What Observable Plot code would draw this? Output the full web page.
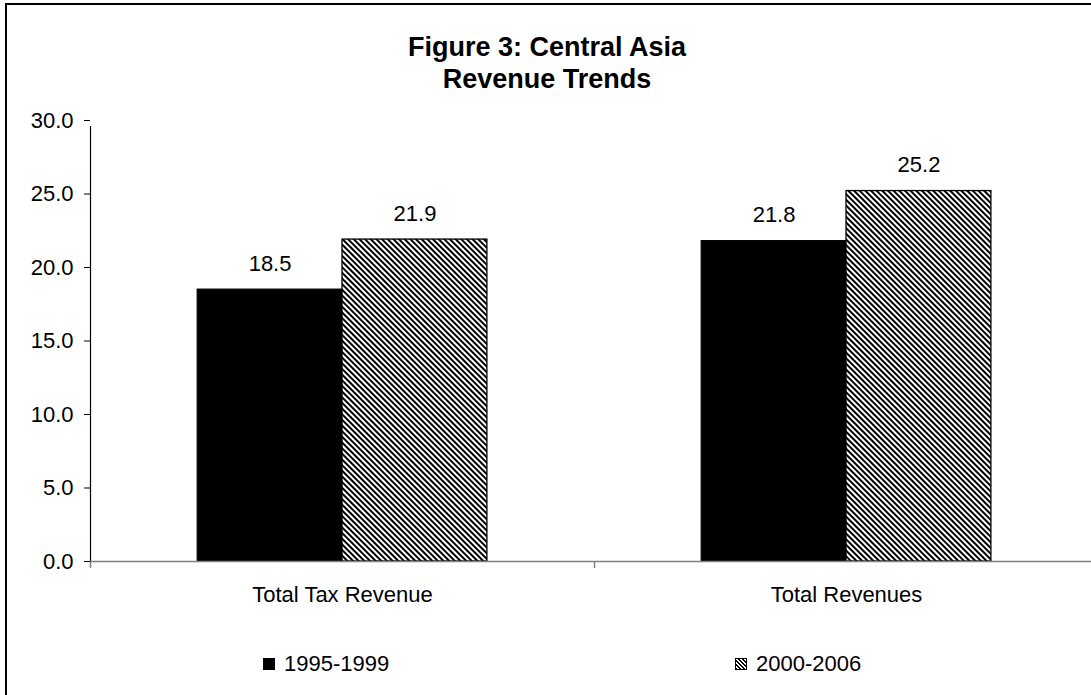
<!DOCTYPE html>
<html><head><meta charset="utf-8">
<script src="https://cdn.jsdelivr.net/npm/d3@7"></script>
<script src="https://cdn.jsdelivr.net/npm/@observablehq/plot@0.6"></script>
<style>
html,body{margin:0;padding:0;width:1091px;height:695px;overflow:hidden;background:#fff;font-family:"Liberation Sans",Arial,sans-serif;}
#wrap{position:relative;width:1091px;height:695px;overflow:hidden;background:#fff;}
#btop{position:absolute;left:5px;top:3px;width:1086px;height:2px;background:#000;}
#bleft{position:absolute;left:5px;top:3px;width:2px;height:692px;background:#000;}
#title{position:absolute;left:0;width:1094px;top:31px;text-align:center;font-weight:bold;font-size:27px;line-height:32px;color:#000;}
#chart{position:absolute;left:0;top:0;width:1091px;height:695px;overflow:hidden;}
#chart svg{overflow:hidden;}
.leg{position:absolute;top:652px;font-size:22px;line-height:24px;display:flex;align-items:center;color:#000;}
.sw{display:inline-block;width:12px;height:12px;margin-right:9px;border:1px solid #000;box-sizing:border-box;}
</style>
</head><body>
<div id="wrap">
  <svg width="0" height="0" style="position:absolute;left:0;top:0">
    <defs>
      <pattern id="hatch" patternUnits="userSpaceOnUse" width="4" height="4" patternTransform="rotate(-45)">
        <rect width="4" height="4" fill="#fff"></rect>
        <rect x="0" y="0" width="2" height="4" fill="#000"></rect>
      </pattern>
    </defs>
  </svg>
  <div id="btop"></div>
  <div id="bleft"></div>
  <div id="title">Figure 3: Central Asia<br>Revenue Trends</div>
  <div id="chart"></div>
  <div class="leg" style="left:263px"><span class="sw" style="background:#000"></span><span id="l0"></span></div>
  <div class="leg" style="left:735px"><span class="sw" style="background:repeating-linear-gradient(45deg,#000 0 1.4px,#fff 1.4px 2.8px)"></span><span id="l1"></span></div>
</div>
<script>
const categories = ["Total Tax Revenue", "Total Revenues"];
const series = ["1995-1999", "2000-2006"];
const values1995 = [18.5, 21.8];
const values2000 = [21.9, 25.2];
const yTicks = [0, 5, 10, 15, 20, 25, 30];

document.getElementById("l0").textContent = series[0];
document.getElementById("l1").textContent = series[1];

const seriesValues = [values1995, values2000];
const groupFrac = 0.575;           // share of each category slot used by bars
const barFrac = groupFrac / series.length;
const data = categories.flatMap((c, i) => series.map((s, j) => {
  const x1 = i + (1 - groupFrac) / 2 + j * barFrac;
  return {category: c, series: s, i, j, value: seriesValues[j][i], x1, x2: x1 + barFrac};
}));

const chart = Plot.plot({
  width: 1091,
  height: 695,
  marginLeft: 90,
  marginRight: 0,
  marginTop: 120,
  marginBottom: 134,
  style: {fontFamily: "Liberation Sans, Arial, sans-serif", background: "transparent", color: "#000", overflow: "hidden"},
  x: {domain: [0, categories.length], range: [90, 1098], axis: null},
  y: {domain: [0, 30], axis: null},
  marks: [
    Plot.rectY(data.filter(d => d.j === 0), {x1: "x1", x2: "x2", y1: 0, y2: "value", fill: "#000", stroke: "#000", strokeWidth: 1}),
    Plot.rectY(data.filter(d => d.j === 1), {x1: "x1", x2: "x2", y1: 0, y2: "value", fill: "url(#hatch)", stroke: "#000", strokeWidth: 1.3}),
    Plot.ruleY([0], {x1: 0, x2: categories.length, stroke: "#808080", strokeWidth: 1.5}),
    Plot.axisX({ticks: d3.range(categories.length + 1), tickFormat: () => "", tickSize: 7, stroke: "#808080", strokeWidth: 1.5, label: null}),
    Plot.axisX({ticks: categories.map((c, i) => i + 0.5), tickFormat: d => categories[Math.floor(d)], tickSize: 0, tickPadding: 25, fontSize: 22, label: null}),
    Plot.ruleX([0], {y1: 0, y2: 30, insetBottom: -6, stroke: "#000", strokeWidth: 1.2}),
    Plot.axisY({ticks: yTicks, tickFormat: d => d.toFixed(1), tickSize: 6, tickPadding: 11, fontSize: 22, stroke: "#000", label: null}),
    Plot.text(data, {x: d => (d.x1 + d.x2) / 2, y: "value", text: d => d.value.toFixed(1), dy: -26, fontSize: 22, fill: "#000"})
  ]
});
document.getElementById("chart").appendChild(chart);
</script>
</body></html>
